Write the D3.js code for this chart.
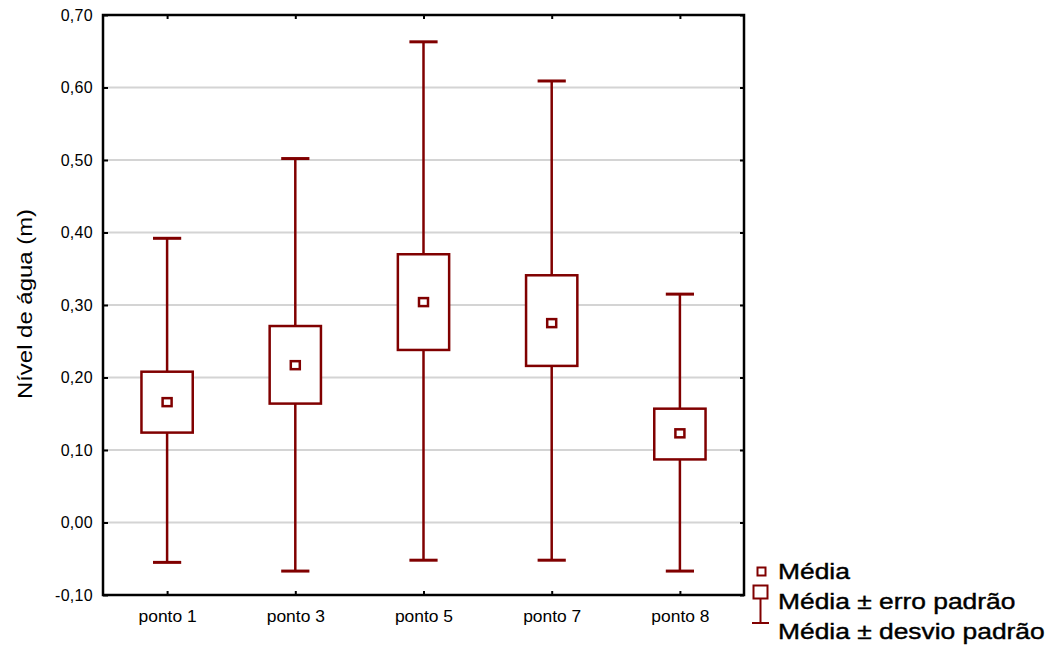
<!DOCTYPE html>
<html>
<head>
<meta charset="utf-8">
<script src="https://cdn.jsdelivr.net/npm/d3@7"></script>
<style>
  html, body { margin: 0; padding: 0; background: #fff; }
  svg { display: block; font-family: "Liberation Sans", Arial, sans-serif; }
</style>
</head>
<body>
<svg id="chart" width="1053" height="648"></svg>
<script>
// Water level per sampling point: mean, standard error box, standard deviation whiskers
const categories = ["ponto 1", "ponto 3", "ponto 5", "ponto 7", "ponto 8"];
const means      = [0.166, 0.217, 0.304, 0.275, 0.123];
const seLow      = [0.124, 0.164, 0.238, 0.216, 0.087];
const seHigh     = [0.208, 0.271, 0.370, 0.341, 0.157];
const sdLow      = [-0.055, -0.067, -0.052, -0.052, -0.067];
const sdHigh     = [0.392, 0.502, 0.663, 0.609, 0.315];
const yTicks     = [-0.10, 0.00, 0.10, 0.20, 0.30, 0.40, 0.50, 0.60, 0.70];
const legendLabels = ["Média", "Média ± erro padrão", "Média ± desvio padrão"];

const color = "#800000";
const svg = d3.select("#chart");

const plot = { left: 103, right: 744, top: 15, bottom: 595 };

const x = d3.scaleBand().domain(categories).range([plot.left, plot.right]).padding(0);
const y = d3.scaleLinear().domain([-0.1, 0.7]).range([plot.bottom, plot.top]);

const fmt = v => d3.format(".2f")(v).replace(".", ",").replace("−", "-");

// gridlines
svg.append("g")
  .selectAll("line")
  .data(yTicks.filter(t => t > -0.1 && t < 0.7))
  .join("line")
  .attr("x1", plot.left).attr("x2", plot.right)
  .attr("y1", d => y(d)).attr("y2", d => y(d))
  .attr("stroke", "#d4d4d4").attr("stroke-width", 2);

// axes (ticks pointing inward)
const leftAxis = d3.axisLeft(y).tickValues(yTicks).tickFormat(fmt).tickSize(-5).tickPadding(10);
const gLeft = svg.append("g").attr("transform", `translate(${plot.left},0)`).call(leftAxis);
gLeft.select(".domain").remove();
gLeft.selectAll(".tick line").attr("stroke", "#000").attr("stroke-width", 2);
gLeft.selectAll(".tick text").attr("font-size", 16).attr("fill", "#000")
  .attr("letter-spacing", 0.3);

const rightAxis = d3.axisRight(y).tickValues(yTicks).tickFormat("").tickSize(-4);
const gRight = svg.append("g").attr("transform", `translate(${plot.right},0)`).call(rightAxis);
gRight.select(".domain").remove();
gRight.selectAll(".tick line").attr("stroke", "#000").attr("stroke-width", 2);

const xCenter = d => x(d) + x.bandwidth() / 2;
const pointX = d3.scalePoint().domain(categories)
  .range([xCenter(categories[0]), xCenter(categories[categories.length - 1])]);

const bottomAxis = d3.axisBottom(pointX).tickSize(-4).tickFormat("");
const gBottom = svg.append("g").attr("transform", `translate(0,${plot.bottom})`).call(bottomAxis);
gBottom.select(".domain").remove();
gBottom.selectAll(".tick line").attr("stroke", "#000").attr("stroke-width", 2);
// category labels, slightly widened
gBottom.selectAll(".tick").append("text")
  .attr("transform", "translate(0,27) scale(1.09,1)")
  .attr("text-anchor", "middle")
  .attr("font-size", 16)
  .attr("fill", "#000")
  .text(d => d);

const topAxis = d3.axisTop(pointX).tickSize(-4).tickFormat("");
const gTop = svg.append("g").attr("transform", `translate(0,${plot.top})`).call(topAxis);
gTop.select(".domain").remove();
gTop.selectAll(".tick line").attr("stroke", "#000").attr("stroke-width", 2);

// frame
svg.append("rect")
  .attr("x", plot.left).attr("y", plot.top)
  .attr("width", plot.right - plot.left).attr("height", plot.bottom - plot.top)
  .attr("fill", "none").attr("stroke", "#000").attr("stroke-width", 2.5);

// y-axis title
svg.append("text")
  .attr("transform", `translate(32,304) rotate(-90) scale(1.14,1)`)
  .attr("text-anchor", "middle")
  .attr("font-size", 21)
  .attr("fill", "#000")
  .text("Nível de água (m)");

// boxes & whiskers
const data = categories.map((c, i) => ({
  c, mean: means[i], seLo: seLow[i], seHi: seHigh[i], sdLo: sdLow[i], sdHi: sdHigh[i]
}));
const boxW = x.bandwidth() * 0.4;
const capW = x.bandwidth() * 0.22;

const g = svg.append("g").attr("stroke", color).attr("stroke-width", 2.5).attr("fill", "none");
const item = g.selectAll("g.item").data(data).join("g").attr("class", "item");

// whiskers
item.append("line")
  .attr("x1", d => xCenter(d.c)).attr("x2", d => xCenter(d.c))
  .attr("y1", d => y(d.sdHi)).attr("y2", d => y(d.seHi));
item.append("line")
  .attr("x1", d => xCenter(d.c)).attr("x2", d => xCenter(d.c))
  .attr("y1", d => y(d.seLo)).attr("y2", d => y(d.sdLo));
item.append("line")
  .attr("x1", d => xCenter(d.c) - capW / 2).attr("x2", d => xCenter(d.c) + capW / 2)
  .attr("y1", d => y(d.sdHi)).attr("y2", d => y(d.sdHi)).attr("stroke-width", 3);
item.append("line")
  .attr("x1", d => xCenter(d.c) - capW / 2).attr("x2", d => xCenter(d.c) + capW / 2)
  .attr("y1", d => y(d.sdLo)).attr("y2", d => y(d.sdLo)).attr("stroke-width", 3);

// standard error box
item.append("rect")
  .attr("x", d => xCenter(d.c) - boxW / 2)
  .attr("y", d => y(d.seHi))
  .attr("width", boxW)
  .attr("height", d => y(d.seLo) - y(d.seHi))
  .attr("fill", "#fff");

// mean marker
item.append("rect")
  .attr("x", d => xCenter(d.c) - 4.5)
  .attr("y", d => y(d.mean) - 4)
  .attr("width", 9).attr("height", 8)
  .attr("fill", "#fff");

// legend
const lg = svg.append("g");
lg.append("rect").attr("x", 757.5).attr("y", 567.5).attr("width", 8).attr("height", 8)
  .attr("fill", "#fff").attr("stroke", color).attr("stroke-width", 2);
lg.append("rect").attr("x", 753.5).attr("y", 585.5).attr("width", 14).attr("height", 13)
  .attr("fill", "#fff").attr("stroke", color).attr("stroke-width", 2);
lg.append("line").attr("x1", 760.5).attr("x2", 760.5).attr("y1", 599).attr("y2", 623)
  .attr("stroke", color).attr("stroke-width", 2);
lg.append("line").attr("x1", 752).attr("x2", 769).attr("y1", 623).attr("y2", 623)
  .attr("stroke", color).attr("stroke-width", 2);
lg.selectAll("text").data(legendLabels).join("text")
  .attr("transform", (d, i) => `translate(778,${[579, 609, 639][i]}) scale(1.2,1)`)
  .attr("font-size", 22)
  .attr("fill", "#000")
  .attr("stroke", "#000")
  .attr("stroke-width", 0.4)
  .text(d => d);
</script>
</body>
</html>
